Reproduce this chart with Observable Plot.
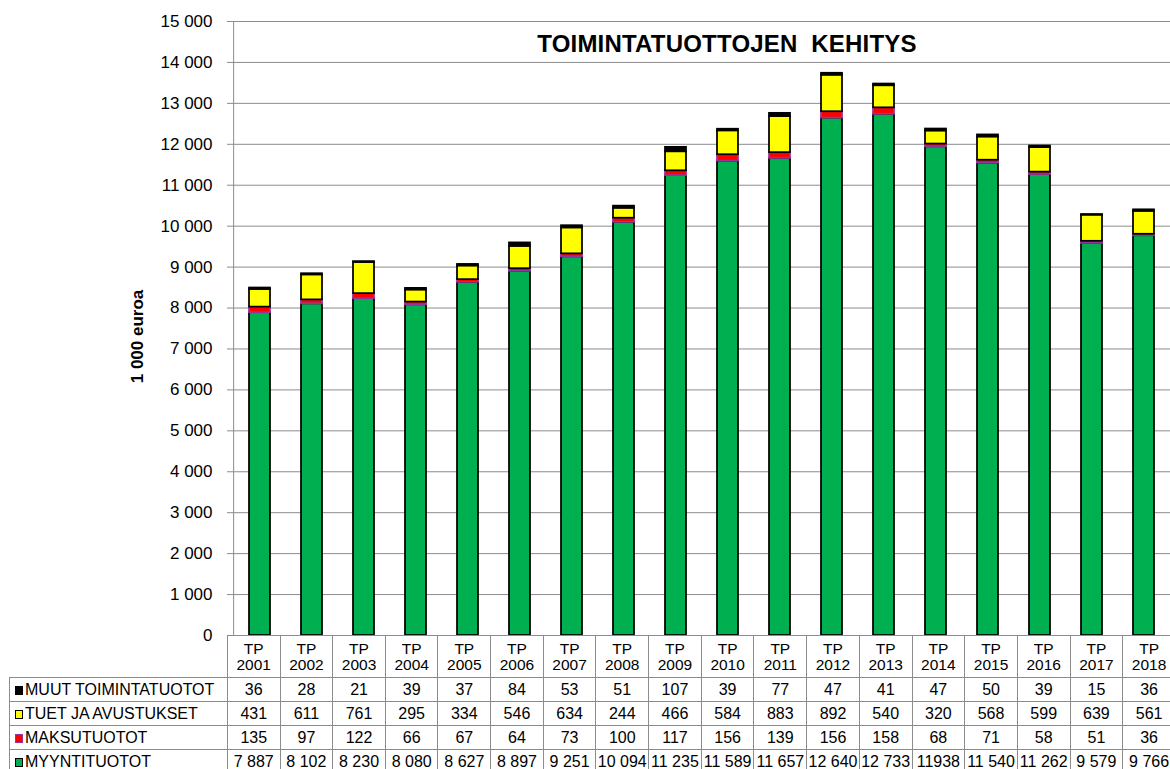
<!DOCTYPE html>
<html><head><meta charset="utf-8">
<script src="https://cdn.jsdelivr.net/npm/d3@7"></script>
<script src="https://cdn.jsdelivr.net/npm/@observablehq/plot@0.6"></script>
<style>
html,body{margin:0;padding:0;background:#fff;overflow:hidden;width:1170px;height:769px}
#wrap{position:relative;width:1176px;height:769px;font-family:"Liberation Sans",Arial,sans-serif;color:#000}
#chart svg{display:block}
#title{position:absolute;left:427px;width:600px;top:30px;text-align:center;font-weight:bold;font-size:24px;letter-spacing:0.2px}
table{position:absolute;left:9px;top:635px;border-collapse:collapse;table-layout:fixed;font-size:16px;background:transparent}
td,th{border:1px solid #8c8c8c;padding:0;text-align:center;font-weight:normal;white-space:nowrap;overflow:hidden;line-height:17px;background:#fff}
tr.hd th{height:41px;font-size:15.5px;line-height:16px;vertical-align:middle}
tr.hd th.blank{border-left:none;border-top:none;border-bottom:1px solid #8c8c8c;background:transparent}
tr.row td{height:23px}
td.lab{text-align:left;padding-left:5px;font-size:16px}
.key{display:inline-block;width:6px;height:7px;border:1px solid #000;margin-right:2px;vertical-align:0px}
</style>
</head><body>
<div id="wrap">
  <div id="chart"></div>
  <div id="title">TOIMINTATUOTTOJEN&nbsp; KEHITYS</div>
  <table id="tbl"></table>
</div>
<script>
const years = ["2001","2002","2003","2004","2005","2006","2007","2008","2009","2010","2011","2012","2013","2014","2015","2016","2017","2018"];
const categoryLabels = years.map(y => "TP\n" + y);
const seriesNames = ["MYYNTITUOTOT", "MAKSUTUOTOT", "TUET JA AVUSTUKSET", "MUUT TOIMINTATUOTOT"];
const myyntituotot = [7887,8102,8230,8080,8627,8897,9251,10094,11235,11589,11657,12640,12733,11938,11540,11262,9579,9766];
const maksutuotot = [135,97,122,66,67,64,73,100,117,156,139,156,158,68,71,58,51,36];
const tuetJaAvustukset = [431,611,761,295,334,546,634,244,466,584,883,892,540,320,568,599,639,561];
const muutToimintatuotot = [36,28,21,39,37,84,53,51,107,39,77,47,41,47,50,39,15,36];
const myyntiLabels = ["7 887","8 102","8 230","8 080","8 627","8 897","9 251","10 094","11 235","11 589","11 657","12 640","12 733","11938","11 540","11 262","9 579","9 766"];
const yTicks = [0,1000,2000,3000,4000,5000,6000,7000,8000,9000,10000,11000,12000,13000,14000,15000];
const fills = ["#00B050", "#FF0000", "#FFFF00", "#000000"];
const strokes = ["#000000", "#993399", "#000000", "#000000"];

const seriesValues = [myyntituotot, maksutuotot, tuetJaAvustukset, muutToimintatuotot];

// stacked segments, bottom to top
const stacked = seriesNames.map((name, s) => years.map((year, i) => {
  let base = 0;
  for (let k = 0; k < s; k++) base += seriesValues[k][i];
  return {year, series: name, y1: base, y2: base + seriesValues[s][i]};
}));

const W = 1176, marginLeft = 227, marginRight = 0;
const step = (W - marginLeft - marginRight) / years.length;
const fmt = d => d3.format(",")(d).replace(/,/g, " ");

const plot = Plot.plot({
  width: W, height: 650,
  marginLeft, marginRight, marginTop: 21, marginBottom: 15,
  style: {fontFamily: "'Liberation Sans', Arial, sans-serif", fontSize: "17px", color: "#000", background: "transparent"},
  x: {domain: years, paddingInner: 0.6, paddingOuter: 0.3, axis: null},
  y: {domain: [0, 15000], axis: null},
  marks: [
    Plot.ruleY(yTicks, {stroke: "#8c8c8c", strokeWidth: 1}),
    Plot.ruleX([years[0]], {dx: -step / 2, stroke: "#8c8c8c", strokeWidth: 1}),
    Plot.axisY({ticks: yTicks, tickFormat: fmt, tickSize: 0, tickPadding: 15, label: null, fontSize: 17}),
    Plot.text(["1 000 euroa"], {frameAnchor: "left", textAnchor: "middle", rotate: -90, dx: -90, dy: 8, fontWeight: "bold", fontSize: 17}),
    ...stacked.map((rows, s) => Plot.barY(rows, {x: "year", y1: "y1", y2: "y2", fill: fills[s], stroke: strokes[s], strokeWidth: 1.75}))
  ]
});
document.getElementById("chart").appendChild(plot);

// data table under the chart
const tbl = document.getElementById("tbl");
let html = "<colgroup><col style='width:218px'>" + years.map(() => `<col style='width:${step}px'>`).join("") + "</colgroup>";
html += "<tr class='hd'><th class='blank'></th>" + categoryLabels.map(l => `<th>${l.replace("\n", "<br>")}</th>`).join("") + "</tr>";
const rowsTop = [
  {name: "MUUT TOIMINTATUOTOT", vals: muutToimintatuotot.map(fmt), fill: fills[3], stroke: strokes[3]},
  {name: "TUET JA AVUSTUKSET", vals: tuetJaAvustukset.map(fmt), fill: fills[2], stroke: strokes[2]},
  {name: "MAKSUTUOTOT", vals: maksutuotot.map(fmt), fill: fills[1], stroke: strokes[1]},
  {name: "MYYNTITUOTOT", vals: myyntiLabels, fill: fills[0], stroke: strokes[0]}
];
for (const r of rowsTop) {
  html += `<tr class='row'><td class='lab'><span class='key' style='background:${r.fill};border-color:${r.stroke}'></span>${r.name}</td>` +
    r.vals.map(v => `<td>${v}</td>`).join("") + "</tr>";
}
tbl.innerHTML = html;
</script>
</body></html>
